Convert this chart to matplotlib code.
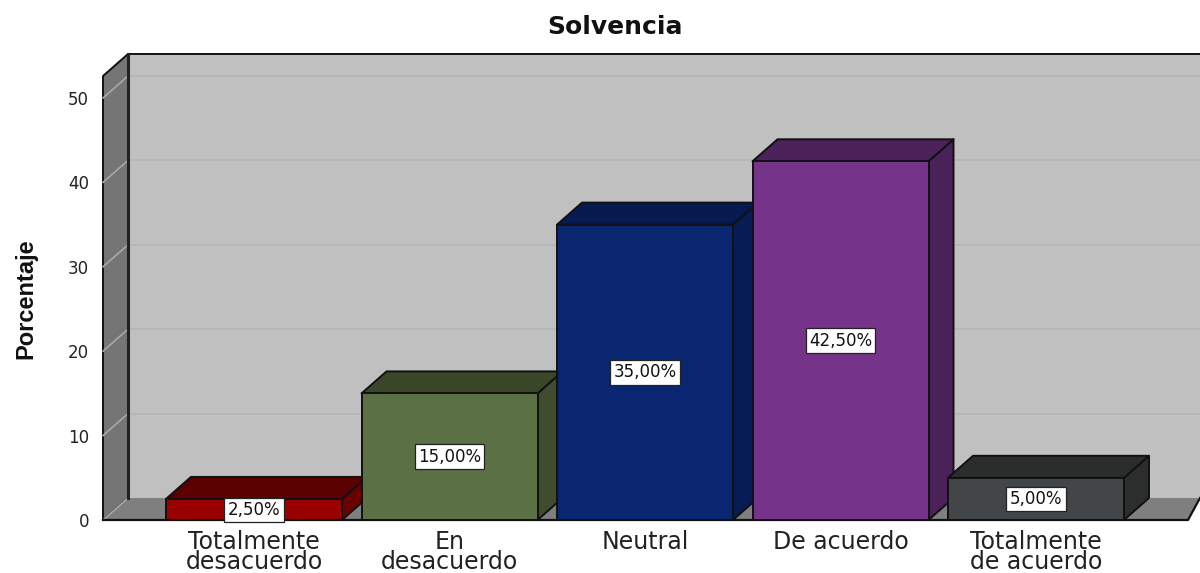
"""Solvencia: SPSS-style 3D bar chart, drawn with flat polygons."""
import matplotlib
matplotlib.use("Agg")
import matplotlib.pyplot as plt
from matplotlib.patches import Polygon

categorias = ["Totalmente\ndesacuerdo", "En\ndesacuerdo", "Neutral", "De acuerdo", "Totalmente\nde acuerdo"]
porcentajes = [2.5, 15.0, 35.0, 42.5, 5.0]
color_frente = ["#990000", "#5c7046", "#0a2670", "#76338a", "#434648"]
color_arriba = ["#5a0000", "#3a4729", "#071a4f", "#4b2259", "#2b2c2c"]
color_lado = ["#6b0000", "#3f4c2e", "#081c54", "#4a2158", "#2c2e2e"]
ticks_y = [0, 10, 20, 30, 40, 50]

W, H = 1200, 573
X_UNIT = 195.5   # px per category
Y_UNIT = 8.44    # px per percent
DX = 25 / X_UNIT  # depth of the 3D box in data units
DY = 22 / Y_UNIT
ANCHO = 176 / X_UNIT

plt.rcParams['font.family'] = ['DejaVu Sans']

fig = plt.figure(figsize=(W / 100, H / 100), dpi=100)
left, right, bottom, top = 103, 1200, 520, 76
ax = fig.add_axes([left / W, 1 - bottom / H, (right - left) / W, (bottom - top) / H])
ax.set_xlim((left - 254) / X_UNIT, (right - 254) / X_UNIT)
ax.set_ylim(0, (bottom - top) / Y_UNIT)
for s in ax.spines.values():
    s.set_visible(False)
ax.patch.set_visible(False)

x0, x1 = ax.get_xlim()
y1 = ax.get_ylim()[1]


def poly(pts, color, z=1, ec="#111111", lw=1.4):
    ax.add_patch(Polygon(pts, closed=True, facecolor=color, edgecolor=ec, linewidth=lw,
                         zorder=z, clip_on=False, joinstyle='round'))


# walls and floor
poly([(x0 + DX, DY), (x1, DY), (x1, y1 + DY), (x0 + DX, y1 + DY)], "#c0c0c0", 1, ec="none", lw=0)
poly([(x0, 0), (x0 + DX, DY), (x0 + DX, y1 + DY), (x0, y1)], "#757575", 2)
poly([(x0, 0), (x1 - 12 / X_UNIT, 0), (x1, DY), (x0 + DX, DY)], "#7f7f7f", 2, ec="none", lw=0)
ax.plot([x0, x1 - 12 / X_UNIT, x1], [0, 0, DY], color="#111111", lw=1.6, zorder=3, clip_on=False)
ax.plot([x0 + DX, x1], [y1 + DY, y1 + DY], color="#111111", lw=1.4, zorder=3, clip_on=False)
ax.plot([x0 + DX, x0 + DX], [DY, y1 + DY], color="#222222", lw=2.2, zorder=3, clip_on=False)

# gridlines, back wall and left wall
for t in ticks_y:
    if t > 0:
        ax.plot([x0 + DX, x1], [t + DY, t + DY], color="#b4b4b4", lw=1.2, zorder=1.5, clip_on=False)
    ax.plot([x0, x0 + DX], [t, t + DY], color="#a8a8a8", lw=1.2, zorder=2.5, clip_on=False)

# bars, left to right so each one overlaps the previous side face
for i, v in enumerate(porcentajes):
    a, b = i - ANCHO / 2, i + ANCHO / 2
    z = 4 + i
    poly([(b, 0), (b + DX, DY), (b + DX, v + DY), (b, v)], color_lado[i], z)
    poly([(a, v), (b, v), (b + DX, v + DY), (a + DX, v + DY)], color_arriba[i], z)
    ax.bar(i, v, width=ANCHO, color=color_frente[i], edgecolor="#111111", linewidth=1.4, zorder=z, clip_on=False)
    ax.text(i, v / 2 if v > 3 else 1.2, f"{v:.2f}".replace(".", ",") + "%", ha='center', va='center',
            fontsize=12, color="#111111", zorder=20,
            bbox=dict(boxstyle='square,pad=0.2', facecolor='white', edgecolor='#222222', linewidth=0.9))

ax.set_xticks(range(len(categorias)))
ax.set_xticklabels(categorias, fontsize=17, color="#222222", linespacing=0.78)
ax.set_yticks(ticks_y)
ax.set_yticklabels([str(t) for t in ticks_y], fontsize=12, color="#222222")
ax.tick_params(axis='x', length=0, pad=7)
ax.tick_params(axis='y', length=0, pad=10)

fig.text(615 / W, 1 - 27 / H, "Solvencia", ha='center', va='center', fontsize=18,
         fontweight='bold', color="#111111")
fig.text(26 / W, 1 - 299 / H, "Porcentaje", ha='center', va='center', rotation=90,
         fontsize=17, fontweight='bold', color="#111111",
         family=['Liberation Sans Narrow', 'Liberation Sans'])

fig.savefig("out.png", dpi=100, facecolor='white')
